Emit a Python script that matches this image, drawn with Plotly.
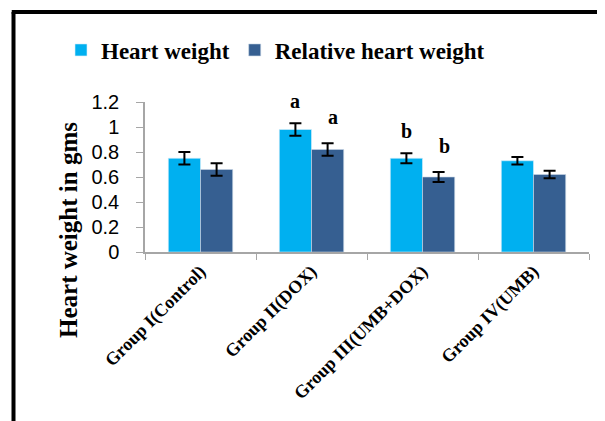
import plotly.graph_objects as go

categories = ["Group I(Control)", "Group II(DOX)", "Group III(UMB+DOX)", "Group IV(UMB)"]
heart_weight = [0.75, 0.98, 0.75, 0.73]
heart_weight_err = [0.05, 0.05, 0.04, 0.03]
rel_heart_weight = [0.66, 0.82, 0.60, 0.62]
rel_heart_weight_err = [0.05, 0.05, 0.04, 0.03]
hw_letters = ["", "a", "b", ""]
rhw_letters = ["", "a", "b", ""]
y_ticks = [0, 0.2, 0.4, 0.6, 0.8, 1, 1.2]

# page body has an 8px margin; work in page pixels and convert
OFF = 8
W, H = 605 - OFF, 421 - OFF
ML, MR, MT, MB = 145 - OFF, 16, 102 - OFF, 169
PW, PH = W - ML - MR, H - MT - MB
BASE = 252  # page y of axis baseline

def px_x(p):
    return (p - OFF - ML) / PW

def px_y(p):
    return (BASE - p) / PH

serif = "Liberation Serif, Times New Roman, serif"
sans = "Liberation Sans, Arial, sans-serif"

fig = go.Figure()
fig.add_trace(go.Bar(
    name="<b>Heart weight</b>", x=categories, y=heart_weight,
    marker=dict(color="#00B0F0", line=dict(color="#d8eefa", width=0.6)),
    error_y=dict(type="data", array=heart_weight_err, color="black", thickness=2, width=6),
))
fig.add_trace(go.Bar(
    name="<b>Relative heart weight</b>", x=categories, y=rel_heart_weight,
    marker=dict(color="#365F91", line=dict(color="#c9d6e6", width=0.6)),
    error_y=dict(type="data", array=rel_heart_weight_err, color="black", thickness=2, width=6),
))

annotations = []
off = 0.145
for i, cat in enumerate(categories):
    if hw_letters[i]:
        annotations.append(dict(x=i - off, y=heart_weight[i] + heart_weight_err[i], xref="x", yref="y",
                                text="<b>%s</b>" % hw_letters[i], showarrow=False, yanchor="bottom",
                                yshift=9, font=dict(family=serif, size=20, color="black")))
    if rhw_letters[i]:
        annotations.append(dict(x=i + off + 0.05, y=rel_heart_weight[i] + rel_heart_weight_err[i], xref="x", yref="y",
                                text="<b>%s</b>" % rhw_letters[i], showarrow=False, yanchor="bottom",
                                yshift=13, font=dict(family=serif, size=20, color="black")))

annotations.append(dict(x=px_x(68), y=px_y(230), xref="paper", yref="paper",
                        xanchor="center", yanchor="middle",
                        text="<b>Heart weight in gms</b>", textangle=-90, showarrow=False,
                        font=dict(family=serif, size=25, color="black")))

xl = px_x(13.5)
yt = px_y(12)
shapes = [
    dict(type="line", xref="paper", yref="paper", x0=xl, x1=xl, y0=-1.3, y1=yt,
         line=dict(color="black", width=4)),
    dict(type="line", xref="paper", yref="paper", x0=xl - 0.004, x1=1.2, y0=yt, y1=yt,
         line=dict(color="black", width=4)),
]

fig.update_layout(
    width=W, height=H,
    margin=dict(l=ML, r=MR, t=MT, b=MB, autoexpand=False),
    paper_bgcolor="white", plot_bgcolor="white",
    barmode="group", bargap=0.42, bargroupgap=0,
    showlegend=True,
    legend=dict(orientation="h", x=px_x(61), y=px_y(50), xanchor="left", yanchor="middle",
                font=dict(family=serif, size=23, color="black"), itemclick=False,
                traceorder="normal"),
    annotations=annotations,
    shapes=shapes,
)
fig.update_xaxes(
    type="category", tickangle=-45, showline=True, linecolor="#a6a6a6", linewidth=1.5,
    ticks="outside", tickson="boundaries", ticklen=6, tickcolor="#a6a6a6",
    tickfont=dict(family=serif, size=18, color="black"),
    tickprefix="<b>", ticksuffix="</b>", showgrid=False, zeroline=False,
)
fig.update_yaxes(
    range=[0, 1.2], tickvals=y_ticks, ticktext=[("%g" % v) for v in y_ticks],
    showline=True, linecolor="#a6a6a6", linewidth=1.5, ticks="outside", ticklen=7,
    tickcolor="#a6a6a6", tickfont=dict(family=sans, size=20, color="black"),
    ticklabelstandoff=13, showgrid=False, zeroline=False,
)

fig.write_html("out.html")
